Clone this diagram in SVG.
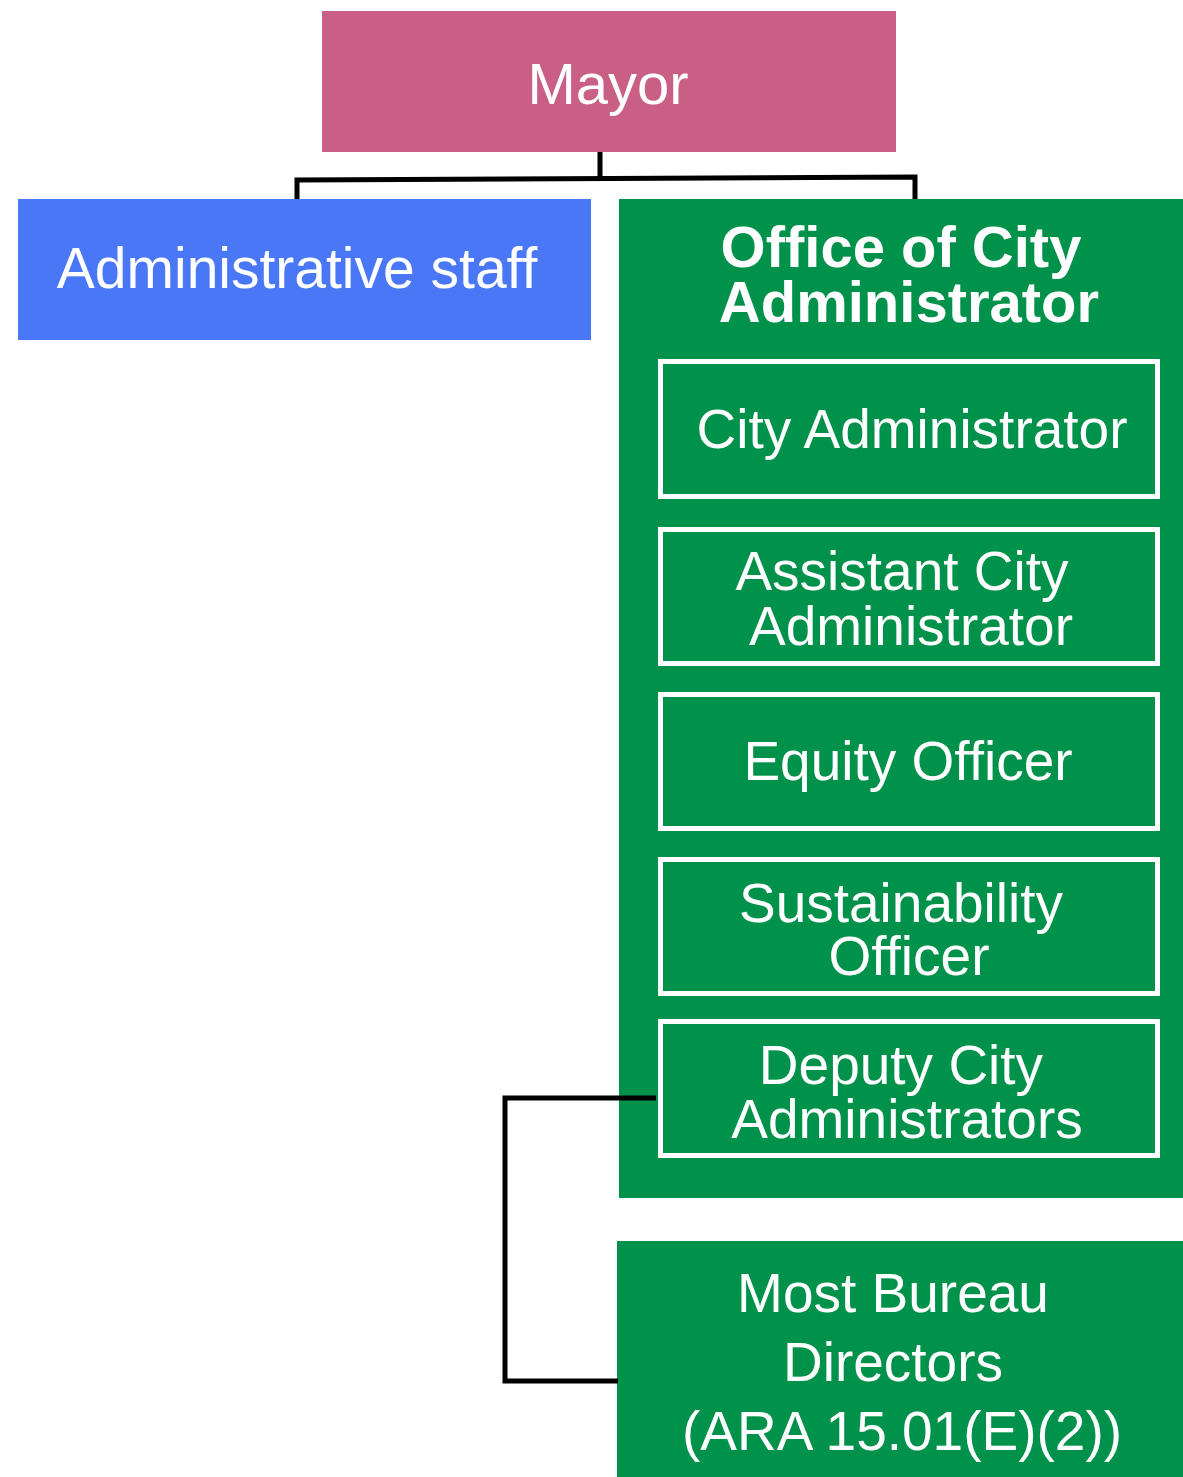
<svg xmlns="http://www.w3.org/2000/svg" width="1183" height="1477" viewBox="0 0 1183 1477">
<style>
.t{font-family:"Liberation Sans",Arial,sans-serif;fill:#fff;text-anchor:middle;font-size:55px}
.b{font-weight:bold;font-size:58px}
.inner{fill:#00914A;stroke:#fff;stroke-width:5}
.conn{fill:none;stroke:#000;stroke-width:5;stroke-linejoin:miter}
</style>
<rect width="1183" height="1477" fill="#fff"/>
<g id="mayor">
<rect x="322" y="11" width="574" height="141" fill="#C95F84"/>
<text class="t" x="608" y="104" style="font-size:58px">Mayor</text>
</g>
<g id="admin-staff">
<rect x="18" y="199" width="573" height="141" fill="#4A77F6"/>
<text class="t" x="297" y="288" style="font-size:57px">Administrative staff</text>
</g>
<g id="office">
<rect x="619" y="199" width="564" height="999" fill="#00914A"/>
<text class="t b" x="901" y="267">Office of City</text>
<text class="t b" x="909" y="322">Administrator</text>
</g>
<g id="city-administrator">
<rect class="inner" x="660.5" y="361.5" width="497" height="135"/>
<text class="t" x="912" y="448">City Administrator</text>
</g>
<g id="assistant-city-administrator">
<rect class="inner" x="660.5" y="529.5" width="497" height="134"/>
<text class="t" x="902" y="590">Assistant City</text>
<text class="t" x="911" y="645">Administrator</text>
</g>
<g id="equity-officer">
<rect class="inner" x="660.5" y="694.5" width="497" height="134"/>
<text class="t" x="908" y="780">Equity Officer</text>
</g>
<g id="sustainability-officer">
<rect class="inner" x="660.5" y="859.5" width="497" height="134"/>
<text class="t" x="901" y="922">Sustainability</text>
<text class="t" x="909" y="975">Officer</text>
</g>
<g id="deputy-city-administrators">
<rect class="inner" x="660.5" y="1021.5" width="497" height="134"/>
<text class="t" x="901" y="1084">Deputy City</text>
<text class="t" x="907" y="1138">Administrators</text>
</g>
<g id="bureau-directors">
<rect x="617" y="1241" width="566" height="236" fill="#00914A"/>
<text class="t" x="893" y="1312">Most Bureau</text>
<text class="t" x="893" y="1381">Directors</text>
<text class="t" x="902" y="1450">(ARA 15.01(E)(2))</text>
</g>
<g id="connectors">
<path class="conn" d="M600,152 V178 M297,199 V180 L915,177 V199"/>
<path class="conn" d="M656,1098 H505 V1381 H618"/>
</g>
</svg>
